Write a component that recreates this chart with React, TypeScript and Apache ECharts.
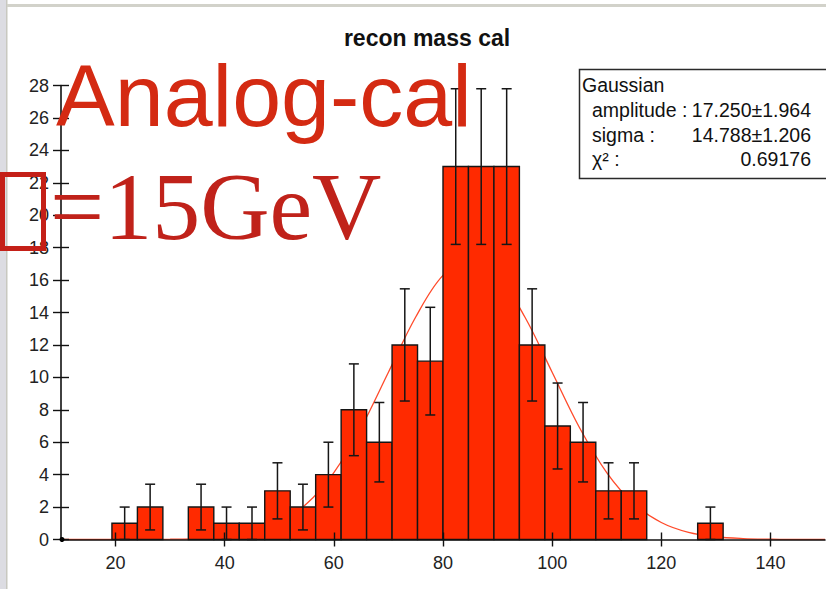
import React, { useEffect, useRef } from "react";
import * as echarts from "echarts";

// ---- data ----
const binEdges = [10, 14.667, 19.333, 24, 28.667, 33.333, 38, 42.667, 47.333, 52, 56.667, 61.333, 66, 70.667, 75.333, 80, 84.667, 89.333, 94, 98.667, 103.333, 108, 112.667, 117.333, 122, 126.667, 131.333, 136, 140.667, 145.333, 150];
const counts = [0, 0, 1, 2, 0, 2, 1, 1, 3, 2, 4, 8, 6, 12, 11, 23, 23, 23, 12, 7, 6, 3, 3, 0, 0, 1, 0, 0, 0, 0];
const errors = [0, 0, 1, 1.41, 0, 1.41, 1, 1, 1.73, 1.41, 2, 2.83, 2.45, 3.46, 3.32, 4.8, 4.8, 4.8, 3.46, 2.65, 2.45, 1.73, 1.73, 0, 0, 1, 0, 0, 0, 0];
const fitX = [10, 15, 20, 25, 30, 35, 40, 45, 50, 55, 60, 65, 70, 75, 80, 85, 90, 95, 100, 105, 110, 115, 120, 125, 130, 135, 140, 145, 150];
const fitY = [0, 0, 0, 0.002, 0.02, 0.06, 0.17, 0.44, 1.05, 2.2, 4.13, 6.91, 10.32, 13.72, 16.29, 17.25, 16.29, 13.72, 10.32, 6.91, 4.13, 2.2, 1.05, 0.44, 0.17, 0.06, 0.02, 0, 0];
const xTickValues = [20, 40, 60, 80, 100, 120, 140];
const chartTitle = "recon mass cal";
const legendTitle = "Gaussian";
const legendRows = [
  { label: "amplitude :", value: "17.250±1.964" },
  { label: "sigma :", value: "14.788±1.206" },
  { label: "χ² :", value: "0.69176" },
];
const overlayLine1 = "Analog-cal";
const overlayLine2 = "=15GeV";

export default function App() {
  const ref = useRef<HTMLDivElement>(null);
  useEffect(() => {
    if (!ref.current) return;
    const chart = echarts.init(ref.current, null, { renderer: "svg" });

    const barData: number[][] = [];
    const errData: number[][] = [];
    counts.forEach((c, i) => {
      if (c > 0) {
        barData.push([binEdges[i], binEdges[i + 1], c]);
        const mid = (binEdges[i] + binEdges[i + 1]) / 2;
        errData.push([mid, c - errors[i], c + errors[i]]);
      }
    });
    const fitData = fitX.map((x, i) => [x, fitY[i]]);

    const sans = "'Liberation Sans', Arial, sans-serif";
    const axisCommonX = { type: "value", min: 10, max: 150, position: "bottom", splitLine: { show: false } };
    const axisCommonY = { type: "value", min: 0, max: 28, interval: 2, position: "left", splitLine: { show: false } };

    const legendX = 580;
    const legendY = 70;

    chart.setOption({
      animation: false,
      backgroundColor: "#ffffff",
      grid: { left: 61, top: 85.5, width: 764, height: 454, containLabel: false },
      xAxis: [
        {
          ...axisCommonX,
          z: 3,
          axisLine: { show: true, onZero: false, lineStyle: { color: "#111", width: 1.6 } },
          axisTick: { show: true, customValues: xTickValues, length: 7, lineStyle: { color: "#111", width: 1.4 } },
          axisLabel: { show: true, customValues: xTickValues, fontSize: 18, color: "#222", margin: 14, fontFamily: sans },
        },
        {
          ...axisCommonX,
          z: 3,
          axisLine: { show: false },
          axisTick: { show: true, inside: true, customValues: xTickValues, length: 7, lineStyle: { color: "#111", width: 1.4 } },
          axisLabel: { show: false },
        },
      ],
      yAxis: [
        {
          ...axisCommonY,
          z: 3,
          axisLine: { show: true, lineStyle: { color: "#111", width: 1.6 } },
          axisTick: { show: true, length: 8, lineStyle: { color: "#111", width: 1.4 } },
          axisLabel: { show: true, fontSize: 18, color: "#222", margin: 12, fontFamily: sans },
        },
        {
          ...axisCommonY,
          z: 3,
          axisLine: { show: false },
          axisTick: { show: true, inside: true, length: 8, lineStyle: { color: "#111", width: 1.4 } },
          axisLabel: { show: false },
        },
      ],
      series: [
        {
          type: "line",
          name: "fit",
          xAxisIndex: 0,
          yAxisIndex: 0,
          z: 1,
          data: fitData,
          smooth: 0.35,
          showSymbol: false,
          symbol: "none",
          lineStyle: { color: "#ff4a2a", width: 1.3 },
        },
        {
          type: "custom",
          name: "bars",
          xAxisIndex: 0,
          yAxisIndex: 0,
          z: 2,
          data: barData,
          renderItem: (_p: any, api: any) => {
            const a = api.coord([api.value(0), api.value(2)]);
            const b = api.coord([api.value(1), 0]);
            return {
              type: "rect",
              shape: { x: a[0], y: a[1], width: b[0] - a[0], height: b[1] - a[1] },
              style: { fill: "#ff2a00", stroke: "#151515", lineWidth: 1.4 },
            };
          },
        },
        {
          type: "custom",
          name: "errors",
          xAxisIndex: 0,
          yAxisIndex: 0,
          z: 5,
          data: errData,
          renderItem: (_p: any, api: any) => {
            const lo = api.coord([api.value(0), api.value(1)]);
            const hi = api.coord([api.value(0), api.value(2)]);
            const w = 5;
            const st = { stroke: "#161616", lineWidth: 1.5 };
            return {
              type: "group",
              children: [
                { type: "line", shape: { x1: lo[0], y1: lo[1], x2: hi[0], y2: hi[1] }, style: st },
                { type: "line", shape: { x1: lo[0] - w, y1: lo[1], x2: lo[0] + w, y2: lo[1] }, style: st },
                { type: "line", shape: { x1: hi[0] - w, y1: hi[1], x2: hi[0] + w, y2: hi[1] }, style: st },
              ],
            };
          },
        },
      ],
      graphic: [
        // slide frame
        { type: "rect", z: 0, shape: { x: 0, y: 0, width: 6, height: 589 }, style: { fill: "#dcdce2" } },
        { type: "rect", z: 0, shape: { x: 6, y: 0, width: 1.5, height: 589 }, style: { fill: "#c8c8c0" } },
        { type: "rect", z: 0, shape: { x: 7, y: 4, width: 819, height: 3 }, style: { fill: "#d2d2ca" } },
        // origin dot
        { type: "circle", z: 10, shape: { cx: 62, cy: 539.5, r: 2.5 }, style: { fill: "#000" } },
        // title
        {
          type: "text",
          z: 10,
          x: 427,
          y: 38,
          style: { text: chartTitle, fontFamily: sans, fontWeight: "bold", fontSize: 23, lineHeight: 20, fill: "#111", align: "center", verticalAlign: "middle" },
        },
        // legend box
        {
          type: "rect",
          z: 10,
          shape: { x: legendX - 0.5, y: legendY - 0.5, width: 260, height: 109 },
          style: { fill: "#fff", stroke: "#2a2a2a", lineWidth: 1.5 },
        },
        {
          type: "text",
          z: 11,
          x: 582,
          y: 85,
          style: { text: legendTitle, fontFamily: sans, fontSize: 19.5, lineHeight: 20, fill: "#111", align: "left", verticalAlign: "middle" },
        },
        ...legendRows.map((r, i) => ({
          type: "group",
          z: 11,
          children: [
            {
              type: "text",
              z: 11,
              x: 592,
              y: 110 + i * 24.5,
              style: { text: r.label, fontFamily: sans, fontSize: 19.5, lineHeight: 20, fill: "#111", align: "left", verticalAlign: "middle" },
            },
            {
              type: "text",
              z: 11,
              x: 811,
              y: 110 + i * 24.5,
              style: { text: r.value, fontFamily: sans, fontSize: 19.5, lineHeight: 20, fill: "#111", align: "right", verticalAlign: "middle" },
            },
          ],
        })),
        // big overlay text
        {
          type: "text",
          z: 20,
          x: 56,
          y: 95,
          style: { text: overlayLine1, fontFamily: sans, fontSize: 88, lineHeight: 64, fill: "#d42a12", align: "left", verticalAlign: "middle" },
        },
        {
          type: "rect",
          z: 20,
          shape: { x: 2.5, y: 174.5, width: 41, height: 74 },
          style: { fill: "none", stroke: "#c42018", lineWidth: 5 },
        },
        {
          type: "text",
          z: 20,
          x: 50,
          y: 206,
          style: { text: overlayLine2, fontFamily: "'Liberation Serif', 'Times New Roman', serif", fontSize: 96, lineHeight: 70, fill: "#c0221a", align: "left", verticalAlign: "middle" },
        },
      ],
    });
    return () => chart.dispose();
  }, []);
  return <div ref={ref} style={{ position: "absolute", left: 0, top: 0, width: 826, height: 589, background: "#fff" }} />;
}
